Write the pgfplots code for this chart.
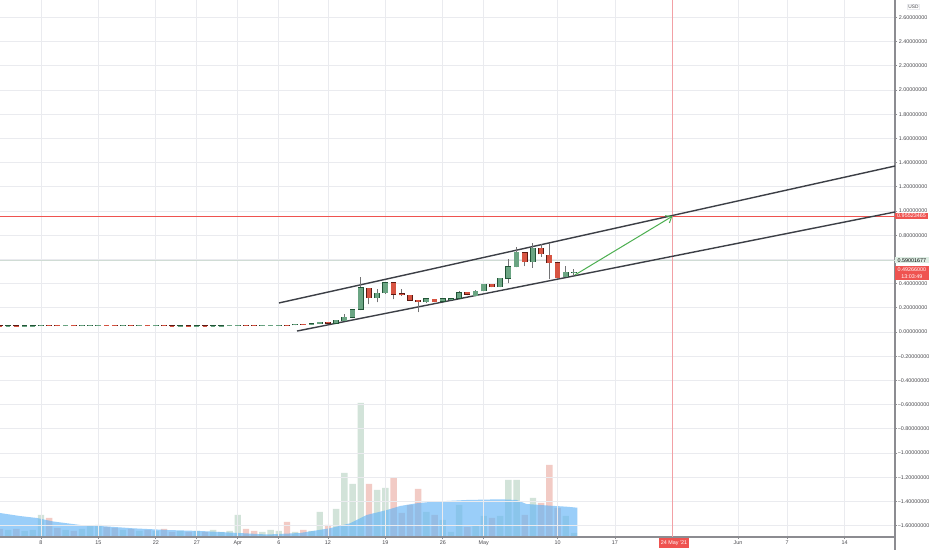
\documentclass[border=0pt]{standalone}
\usepackage{fontspec}
\setmainfont{Liberation Sans}
\usepackage{pgfplots}
\usepackage{pgfplotstable}
\pgfplotsset{compat=1.18}
\usetikzlibrary{arrows.meta}

\definecolor{upF}{RGB}{107,165,131}
\definecolor{upB}{RGB}{34,84,55}
\definecolor{dnF}{RGB}{215,84,66}
\definecolor{dnB}{RGB}{91,26,19}
\definecolor{wick}{RGB}{115,115,117}
\definecolor{gridc}{RGB}{234,235,239}
\definecolor{axisc}{RGB}{140,140,145}
\definecolor{labc}{RGB}{75,75,80}
\definecolor{tvred}{RGB}{239,83,80}
\definecolor{pinkl}{RGB}{242,160,165}
\definecolor{trend}{RGB}{60,63,70}
\definecolor{arrowg}{RGB}{76,175,80}
\definecolor{bluea}{RGB}{100,181,246}
\definecolor{lvl}{RGB}{208,220,213}
\definecolor{lvlbox}{RGB}{222,238,228}

\newcommand{\tf}{\fontsize{2.7}{3.2}\selectfont}

\pgfplotsset{candle/.style={only marks, mark=*, mark size=0pt, mark options={draw=none, fill=none}, forget plot,
  error bars/.cd, y dir=plus, y explicit, error mark=none}}

\pgfplotstableread{
d o h l c
3 0.050 0.052 0.049 0.051
5 0.050 0.052 0.049 0.051
6 0.051 0.053 0.050 0.052
7 0.052 0.060 0.051 0.058
10 0.053 0.055 0.052 0.054
12 0.053 0.055 0.052 0.054
13 0.054 0.057 0.053 0.056
14 0.056 0.059 0.055 0.058
17 0.055 0.057 0.054 0.056
19 0.054 0.056 0.053 0.055
21 0.053 0.055 0.052 0.054
24 0.051 0.053 0.050 0.052
26 0.050 0.052 0.049 0.051
28 0.050 0.052 0.049 0.051
29 0.051 0.053 0.050 0.052
30 0.052 0.056 0.051 0.055
31 0.055 0.059 0.054 0.058
34 0.055 0.057 0.054 0.056
35 0.056 0.058 0.055 0.057
36 0.057 0.059 0.056 0.058
38 0.058 0.066 0.057 0.064
40 0.064 0.070 0.063 0.069
41 0.069 0.082 0.068 0.080
43 0.071 0.098 0.070 0.096
44 0.093 0.146 0.088 0.124
45 0.121 0.190 0.115 0.185
46 0.187 0.457 0.180 0.366
48 0.284 0.353 0.245 0.320
49 0.325 0.416 0.318 0.408
54 0.251 0.285 0.240 0.273
56 0.256 0.280 0.250 0.275
57 0.270 0.280 0.265 0.276
58 0.278 0.340 0.270 0.325
60 0.300 0.345 0.295 0.339
61 0.339 0.400 0.335 0.394
63 0.375 0.450 0.370 0.444
64 0.444 0.600 0.402 0.540
65 0.540 0.700 0.534 0.661
67 0.581 0.733 0.532 0.691
71 0.455 0.548 0.455 0.493
72 0.488 0.518 0.466 0.4926
}\greens

\pgfplotstableread{
d o h l c
2 0.051 0.052 0.049 0.050
4 0.051 0.052 0.049 0.050
8 0.058 0.060 0.054 0.055
9 0.055 0.056 0.052 0.053
11 0.054 0.055 0.052 0.053
15 0.058 0.059 0.055 0.056
16 0.056 0.057 0.054 0.055
18 0.056 0.057 0.053 0.054
20 0.055 0.056 0.052 0.053
22 0.054 0.055 0.051 0.052
23 0.052 0.053 0.050 0.051
25 0.052 0.053 0.049 0.050
27 0.051 0.052 0.049 0.050
32 0.058 0.059 0.055 0.056
33 0.056 0.057 0.054 0.055
37 0.058 0.059 0.055 0.056
39 0.066 0.068 0.063 0.064
42 0.080 0.082 0.069 0.071
47 0.361 0.366 0.229 0.284
50 0.408 0.410 0.270 0.314
51 0.317 0.353 0.300 0.306
52 0.306 0.310 0.260 0.264
53 0.262 0.265 0.165 0.251
55 0.270 0.275 0.245 0.251
59 0.328 0.330 0.305 0.311
62 0.394 0.400 0.370 0.375
66 0.656 0.661 0.545 0.581
68 0.691 0.727 0.623 0.645
69 0.636 0.733 0.435 0.573
70 0.573 0.579 0.435 0.449
}\reds

\pgfplotstableread{
d v
3 7
5 6
6 7
7 22
10 7
12 8
13 11
14 12
17 7
19 6
21 6
24 6
26 6
28 7
29 5
30 6
31 22
34 5
35 7
36 6
38 5
40 6
41 25
43 28
44 64
45 53
46 134
48 47
49 49
54 25
56 17
57 5
58 32
60 12
61 21
63 21
64 57
65 57
67 39
71 21
72 4
}\volG

\pgfplotstableread{
d v
2 8
4 8
8 19
9 9
11 6
15 10
16 9
18 8
20 7
22 8
23 5
25 5
27 5
32 8
33 6
37 15
39 7
42 12
47 53
50 59
51 24
52 32
53 48
55 22
59 10
62 19
66 22
68 34
69 72
70 29
}\volR

\pgfplotstableread{
d v
2.0 24
4.4 21
6.5 19
8.5 15.5
11.8 12
14.2 11
18.2 8.7
22.4 7
26.4 6
30.4 4.3
34.6 2.5
38.6 4
42.2 8.7
44.7 13.7
46.7 22
49.2 27
50.8 31
52.8 33.7
54.8 35.3
58.9 37
63.0 37.7
65.0 37
66.2 33
69.1 31.3
71.1 30.3
72.4 29.3
}\blue

\begin{document}
\begin{tikzpicture}
\useasboundingbox (0,0) rectangle (466pt,275pt);
\fill[white] (0,0) rectangle (466pt,275pt);

% volume pane
\begin{axis}[at={(0,6.5pt)}, anchor=south west, scale only axis,
  width=447.5pt, height=268.5pt, xmin=2, xmax=111.15, ymin=0, ymax=537,
  hide axis]
\addplot[ybar, bar width=3.2pt, bar shift=0pt, draw=none, fill=upF, fill opacity=0.3] table[x=d,y=v]{\volG};
\addplot[ybar, bar width=3.2pt, bar shift=0pt, draw=none, fill=dnF, fill opacity=0.3] table[x=d,y=v]{\volR};
\addplot[draw=none, fill=bluea, fill opacity=0.65] table[x=d,y=v]{\blue} \closedcycle;
\end{axis}

% price pane
\begin{axis}[at={(0,6.5pt)}, anchor=south west, scale only axis,
  width=447.5pt, height=268.5pt, xmin=2, xmax=111.15, ymin=-1.694, ymax=2.744,
  axis x line*=bottom, axis y line*=right,
  axis line style={-, draw=axisc, line width=0.6pt},
  xtick={7,14,21,26,31,36,42,49,56,61,70,77,92,98,105},
  xticklabels={8,15,22,27,Apr,6,12,19,26,May,10,17,Jun,7,14},
  ytick={-1.6,-1.4,-1.2,-1,-0.8,-0.6,-0.4,-0.2,0,0.2,0.4,0.6,0.8,1,1.2,1.4,1.6,1.8,2,2.2,2.4,2.6},
  yticklabels={−1.60000000,−1.40000000,−1.20000000,−1.00000000,−0.80000000,−0.60000000,−0.40000000,−0.20000000,0.00000000,0.20000000,0.40000000,0.60000000,0.80000000,1.00000000,1.20000000,1.40000000,1.60000000,1.80000000,2.00000000,2.20000000,2.40000000,2.60000000},
  grid=major, major grid style={draw=gridc, line width=0.4pt},
  tick align=outside, major tick length=1.2pt,
  tick style={draw=axisc, line width=0.4pt},
  ticklabel style={font=\tf, text=labc},
  yticklabel style={anchor=west, inner sep=0pt, text width=14.8pt, align=right},
  xticklabel style={inner sep=0.6pt},
  clip=true]
\addplot[lvl, line width=0.5pt, forget plot] coordinates {(2,0.590) (111.15,0.590)};
\addplot[tvred, line width=0.6pt, forget plot] coordinates {(2,0.9552) (111.15,0.9552)};
\addplot[pinkl, line width=0.5pt, forget plot] coordinates {(84,-1.694) (84,2.744)};
\addplot[trend, line width=0.7pt, forget plot] coordinates {(36.02,0.240) (111.15,1.372)};
\addplot[trend, line width=0.7pt, forget plot] coordinates {(38.22,0.008) (111.15,0.992)};
% wicks
\addplot[candle, error bar style={line width=0.5pt, draw=wick}] table[x=d, y=l, y error plus expr=\thisrow{h}-\thisrow{l}]{\greens};
\addplot[candle, error bar style={line width=0.5pt, draw=wick}] table[x=d, y=l, y error plus expr=\thisrow{h}-\thisrow{l}]{\reds};
% bodies: border
\addplot[candle, error bar style={line width=2.9pt, draw=upB}] table[x=d, y expr=\thisrow{o}-0.004, y error plus expr=\thisrow{c}-\thisrow{o}+0.008]{\greens};
\addplot[candle, error bar style={line width=2.9pt, draw=dnB}] table[x=d, y expr=\thisrow{c}-0.004, y error plus expr=\thisrow{o}-\thisrow{c}+0.008]{\reds};
% bodies: fill
\addplot[candle, error bar style={line width=2.3pt, draw=upF}] table[x=d, y=o, y error plus expr=\thisrow{c}-\thisrow{o}]{\greens};
\addplot[candle, error bar style={line width=2.3pt, draw=dnF}] table[x=d, y=c, y error plus expr=\thisrow{o}-\thisrow{c}]{\reds};
% projection arrow
\addplot[arrowg, line width=0.5pt, -{Straight Barb[length=2.6pt,width=4.2pt]}, forget plot] coordinates {(72.1,0.471) (84.0,0.957)};
\end{axis}

% price-scale labels (pixel coordinates)
\begin{scope}[shift={(0,275pt)}, x=0.5pt, y=-0.5pt]
\draw[axisc, line width=0.6pt] (895,537) -- (895,550);
\node[draw=gridc, line width=0.3pt, fill=white, text=labc, inner sep=0.4pt, font=\fontsize{2.4}{2.8}\selectfont] at (913.5,6.5) {USD};
\node[fill=tvred, text=white, inner sep=0pt, minimum width=16.5pt, minimum height=3.4pt, anchor=west, font=\tf] at (894.6,216) {0.95523465};
\node[fill=lvlbox, text=black, inner sep=0pt, minimum width=16.8pt, minimum height=3.1pt, anchor=west, font=\tf] at (894.6,260.3) {0.59001677};
\node[fill=tvred, text=white, inner sep=0pt, minimum width=16.8pt, minimum height=7.3pt, anchor=west, align=center, font=\fontsize{2.7}{3.3}\selectfont] at (894.6,273.2) {0.49266000\\13:03:49};
\node[fill=tvred, text=white, inner sep=0pt, minimum width=14.7pt, minimum height=4.7pt, font=\tf] at (674,543) {24 May '21};
\end{scope}
\end{tikzpicture}
\end{document}
